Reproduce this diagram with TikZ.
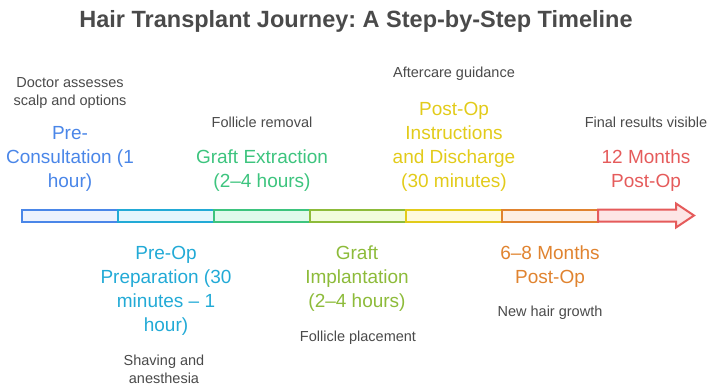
\documentclass[tikz,border=0pt]{standalone}
\usepackage{fontspec}
\setmainfont{Liberation Sans}
\frenchspacing
\definecolor{tgray}{HTML}{4A4A4A}
\definecolor{c1}{HTML}{4A86E8}\definecolor{f1}{HTML}{EDF2FD}
\definecolor{c2}{HTML}{22AAD6}\definecolor{f2}{HTML}{E4F6FC}
\definecolor{c3}{HTML}{3DC47E}\definecolor{f3}{HTML}{E0FAEC}
\definecolor{c4}{HTML}{8DBB3A}\definecolor{f4}{HTML}{F1FCDC}
\definecolor{c5}{HTML}{E2CB1A}\definecolor{f5}{HTML}{FEF9DC}
\definecolor{c6}{HTML}{E0832F}\definecolor{f6}{HTML}{FDEEE3}
\definecolor{c7}{HTML}{E55B5B}\definecolor{f7}{HTML}{FDE6E6}
\tikzset{
  stage/.style={align=center, inner sep=0pt, font=\fontsize{19}{24}\selectfont},
  desc/.style={align=center, inner sep=0pt, text=tgray, font=\fontsize{14.5}{18}\selectfont},
  seg/.style={line width=2pt},
}
\begin{document}
\begin{tikzpicture}[x=1pt,y=-1pt]
\useasboundingbox (0,0) rectangle (711,388);
\node[inner sep=0pt, text=tgray, font=\fontsize{23.5}{28}\selectfont\bfseries] (title) at (356,21) {Hair Transplant Journey: A Step-by-Step Timeline};
% bar
\draw[seg, draw=c1, fill=f1] (22,209.5) rectangle (118,221.5);
\draw[seg, draw=c2, fill=f2] (118,209.5) rectangle (214,221.5);
\draw[seg, draw=c3, fill=f3] (214,209.5) rectangle (310,221.5);
\draw[seg, draw=c4, fill=f4] (310,209.5) rectangle (406,221.5);
\draw[seg, draw=c5, fill=f5] (406,209.5) rectangle (502,221.5);
\draw[seg, draw=c6, fill=f6] (502,209.5) rectangle (598,221.5);
\draw[seg, draw=c7, fill=f7, line join=miter] (598,209.5) -- (676,209.5) -- (676,203.5) -- (694,215.5) -- (676,227.5) -- (676,221.5) -- (598,221.5) -- cycle;
% above
\node[desc] (d1) at (70,93) {Doctor assesses\\scalp and options};
\node[stage, text=c1] (s1) at (70,159) {Pre-\\Consultation (1\\hour)};
\node[desc] (d3) at (262,122) {Follicle removal};
\node[stage, text=c3] (s3) at (262,171) {Graft Extraction\\(2–4 hours)};
\node[desc] (d5) at (454,74) {Aftercare guidance};
\node[stage, text=c5] (s5) at (454,147) {Post-Op\\Instructions\\and Discharge\\(30 minutes)};
\node[desc] (d7) at (646,122) {Final results visible};
\node[stage, text=c7] (s7) at (646,171) {12 Months\\Post-Op};
% below
\node[stage, text=c2] (s2) at (166,291) {Pre-Op\\Preparation (30\\minutes – 1\\hour)};
\node[desc] (d2) at (164,369) {Shaving and\\anesthesia};
\node[stage, text=c4] (s4) at (357,279) {Graft\\Implantation\\(2–4 hours)};
\node[desc] (d4) at (358,338) {Follicle placement};
\node[stage, text=c6] (s6) at (550,267) {6–8 Months\\Post-Op};
\node[desc] (d6) at (550,313) {New hair growth};
\end{tikzpicture}
\end{document}
